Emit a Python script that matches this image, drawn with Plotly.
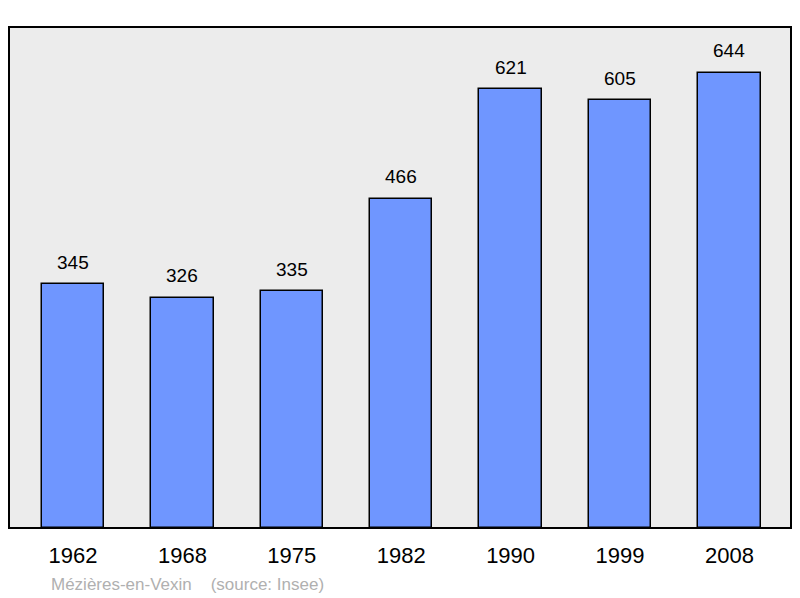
import plotly.graph_objects as go

years = ["1962", "1968", "1975", "1982", "1990", "1999", "2008"]
population = [345, 326, 335, 466, 621, 605, 644]
caption = "Mézières-en-Vexin    (source: Insee)"

FONT = "Liberation Sans, Arial, sans-serif"
xs = list(range(len(years)))

fig = go.Figure()
fig.add_trace(go.Bar(
    x=xs, y=population,
    width=0.57,
    marker=dict(color="#6f96ff", line=dict(color="black", width=1.5)),
    hoverinfo="skip",
))

annotations = [dict(x=x, y=v, text=str(v), xref="x", yref="y", showarrow=False,
                    yanchor="middle", yshift=22,
                    font=dict(family=FONT, size=19, color="black"))
               for x, v in zip(xs, population)]
# figure offset by the 8px body margin: plot area spans 9..791 x 27..528 in the page
annotations.append(dict(text=caption, xref="paper", yref="paper", x=40/782, y=-56/501,
                        xanchor="left", yanchor="middle", showarrow=False,
                        font=dict(family=FONT, size=17, color="#b0b0b0")))

fig.update_layout(
    width=792, height=590,
    margin=dict(l=1, r=9, t=19, b=70),
    paper_bgcolor="white", plot_bgcolor="#ececec",
    showlegend=False,
    bargap=0,
    xaxis=dict(range=[-0.585, 6.563], tickmode="array", tickvals=xs,
               ticktext=years, showgrid=False, zeroline=False, ticks="",
               tickfont=dict(family=FONT, size=22, color="black"),
               ticklabelstandoff=12),
    yaxis=dict(range=[0, 709], showgrid=False, zeroline=False, showticklabels=False, ticks=""),
    shapes=[dict(type="rect", xref="paper", yref="paper", x0=0, x1=1, y0=0, y1=1,
                 line=dict(color="black", width=2), layer="above")],
    annotations=annotations,
)
fig.write_html("out.html")
